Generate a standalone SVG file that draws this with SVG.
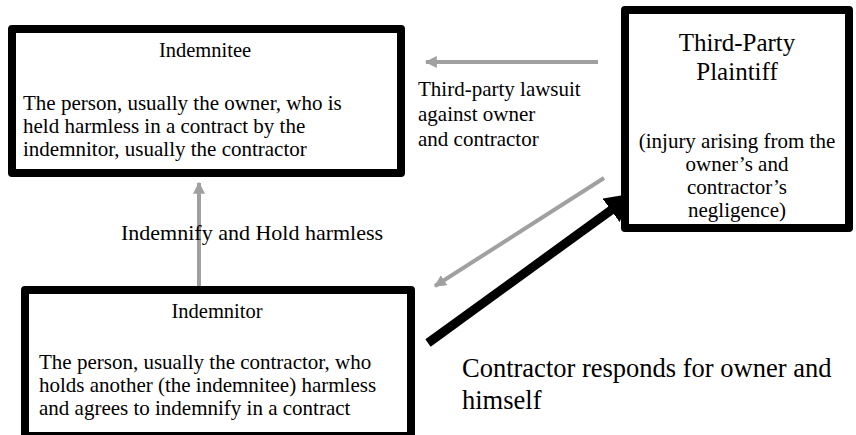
<svg xmlns="http://www.w3.org/2000/svg" width="856" height="435" viewBox="0 0 856 435">
<style>
text{font-family:"Liberation Serif","Times New Roman",serif;fill:#000}
.box{fill:#fff;stroke:#000;stroke-width:8;stroke-linejoin:round}
.t{font-size:20.5px}
.d{font-size:21px}
.big{font-size:25px}
.lbl{font-size:21px}
.gray{stroke:#a0a0a0;stroke-width:4;fill:none}
</style>
<defs>
<marker id="ag" viewBox="0 0 10 10" refX="9" refY="5" markerWidth="3" markerHeight="3" orient="auto" markerUnits="strokeWidth">
<path d="M0,0 L10,5 L0,10 z" fill="#a0a0a0"/>
</marker>
<marker id="ab" viewBox="0 0 10 10" refX="9" refY="5" markerWidth="3.2" markerHeight="3.2" orient="auto" markerUnits="strokeWidth">
<path d="M0,0 L10,5 L0,10 z" fill="#000"/>
</marker>
</defs>
<g id="connectors">
<line class="gray" x1="598" y1="62" x2="426" y2="62" marker-end="url(#ag)"/>
<line class="gray" x1="199" y1="290" x2="199" y2="183" marker-end="url(#ag)"/>
<line class="gray" x1="604" y1="178" x2="435" y2="286" marker-end="url(#ag)"/>
<line x1="428" y1="343" x2="632" y2="195" stroke="#000" stroke-width="9" marker-end="url(#ab)"/>
</g>
<g id="indemnitee">
<rect class="box" x="12" y="29" width="389" height="144"/>
<text class="t" x="205" y="57" text-anchor="middle">Indemnitee</text>
<text class="d" x="23" y="110">The person, usually the owner, who is</text>
<text class="d" x="23" y="133">held harmless in a contract by the</text>
<text class="d" x="23" y="156">indemnitor, usually the contractor</text>
</g>
<g id="plaintiff">
<rect class="box" x="625" y="10" width="224" height="218"/>
<text class="big" x="737" y="51" text-anchor="middle">Third-Party</text>
<text class="big" x="737" y="80" text-anchor="middle">Plaintiff</text>
<text class="d" x="737" y="148" text-anchor="middle">(injury arising from the</text>
<text class="d" x="737" y="171" text-anchor="middle">owner’s and</text>
<text class="d" x="737" y="194" text-anchor="middle">contractor’s</text>
<text class="d" x="737" y="217" text-anchor="middle">negligence)</text>
</g>
<g id="indemnitor">
<rect class="box" x="25" y="290" width="386" height="146"/>
<text class="t" x="217" y="318" text-anchor="middle">Indemnitor</text>
<text class="d" x="39" y="369">The person, usually the contractor, who</text>
<text class="d" x="39" y="392">holds another (the indemnitee) harmless</text>
<text class="d" x="39" y="415">and agrees to indemnify in a contract</text>
</g>
<g id="labels">
<text font-size="22" x="121" y="240">Indemnify and Hold harmless</text>
<text class="lbl" x="418" y="96">Third-party lawsuit</text>
<text class="lbl" x="418" y="121">against owner</text>
<text class="lbl" x="418" y="146">and contractor</text>
<text font-size="26.5" x="462" y="377">Contractor responds for owner and</text>
<text font-size="26.5" x="462" y="409">himself</text>
</g>
</svg>
